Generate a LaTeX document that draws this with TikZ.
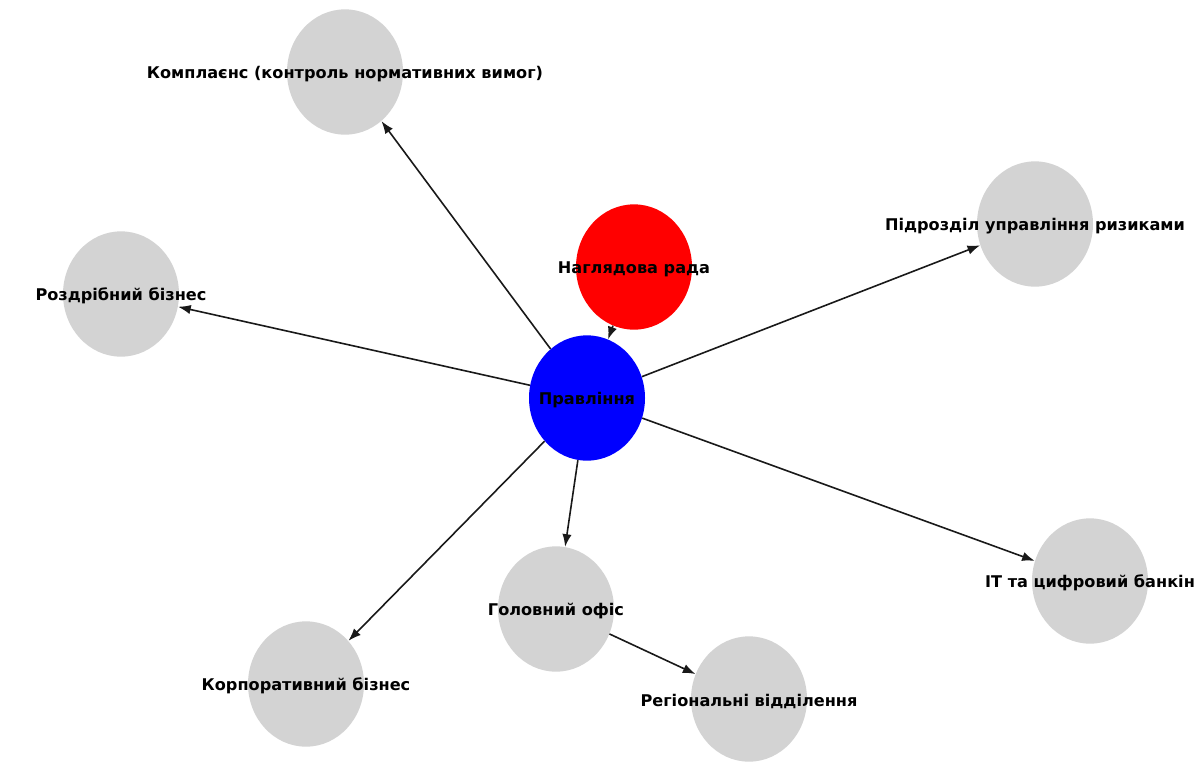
\documentclass[tikz,border=0pt]{standalone}
\usepackage{fontspec}
\setmainfont{DejaVu Sans}
\usetikzlibrary{shapes.geometric,arrows.meta}

\definecolor{unitgrey}{RGB}{211,211,211}

\tikzset{%
  every node/.style={
    inner sep=0pt
  },
  unit/.style={
    ellipse, fill=unitgrey, minimum width=87pt, minimum height=94pt
  },
  lab/.style={
    font=\bfseries\fontsize{12.1}{14}\selectfont, yshift=-1.5pt
  },
  link/.style={
    draw=black!90, line width=1.2pt, -{Latex[length=9.5pt,width=7pt]}
  }
}

\begin{document}
\begin{tikzpicture}[x=0.75pt,y=-0.75pt]
        \useasboundingbox (0,0) rectangle (1200,772);
        \node[unit, fill=blue] at (587,398) (0) [label={[lab]center:Правління}] {};
        \node[unit, fill=red] at (634,267) (1) [label={[lab]center:{Наглядова рада}}] {};
        \node[unit] at (345,72) (2) [label={[lab]center:{Комплаєнс (контроль нормативних вимог)}}] {};
        \node[unit] at (121,294) (3) [label={[lab]center:{Роздрібний бізнес}}] {};
        \node[unit] at (1035,224) (4) [label={[lab]center:{Підрозділ управління ризиками}}] {};
        \node[unit] at (1090,581) (5) [label={[lab]center:{ІТ та цифровий банкін}}] {};
        \node[unit] at (556,609) (6) [label={[lab]center:{Головний офіс}}] {};
        \node[unit] at (306,684) (7) [label={[lab]center:{Корпоративний бізнес}}] {};
        \node[unit] at (749,699) (8) [label={[lab]center:{Регіональні відділення}}] {};
        \draw[link] (1) -- (0);
        \draw[link] (0) -- (2);
        \draw[link] (0) -- (3);
        \draw[link] (0) -- (4);
        \draw[link] (0) -- (5);
        \draw[link] (0) -- (6);
        \draw[link] (0) -- (7);
        \draw[link] (6) -- (8);
      \end{tikzpicture}
\end{document}
